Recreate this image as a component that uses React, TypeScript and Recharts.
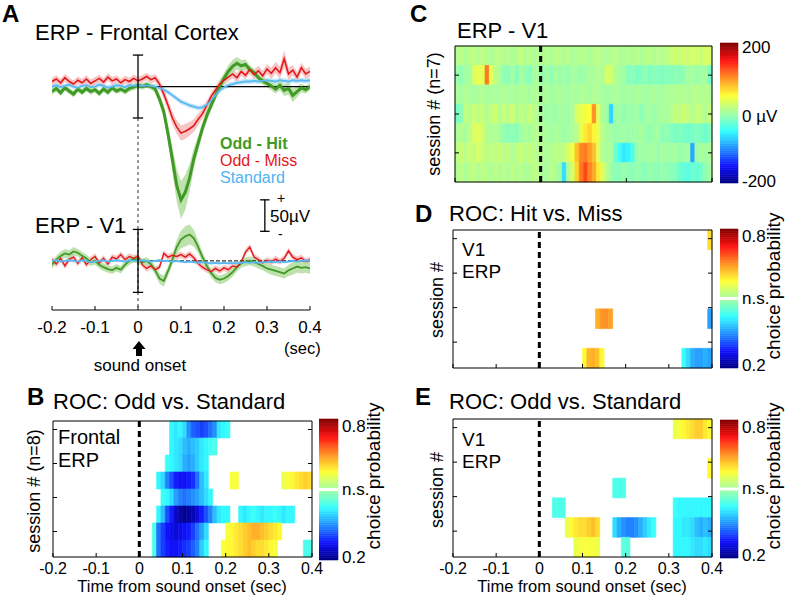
import React from 'react';
import { ComposedChart, Line, Area, XAxis, YAxis, ReferenceLine, ReferenceArea } from 'recharts';

const FONT = '"Liberation Sans", Arial, Helvetica, sans-serif';

// ---------- A: ERP traces, 10 ms steps from -0.2 s to 0.4 s, values in µV ----------
const T_START = -0.2;
const T_STEP = 0.01;
const X_TICKS = [-0.2, -0.1, 0, 0.1, 0.2, 0.3, 0.4];

const frontalHit = [
  -8, -3, -10, -2, -7, -12, -4, -9, -3, -8,
  -5, -11, -4, -9, -2, -7, -4, -8, -3, -1,
  2, 0, 3, 0, -4, -20, -40, -76, -116, -157,
  -180, -168, -145, -114, -90, -66, -46, -30, -14, 0,
  13, 24, 32, 37, 33, 35, 27, 22, 14, 9,
  5, 1, -4, 2, -6, -3, -14, -8, -2, -5,
  0,
];
const frontalHitErr = [
  5, 5, 5, 5, 5, 5, 5, 5, 5, 5,
  5, 5, 5, 5, 5, 5, 5, 5, 5, 5,
  5, 5, 5, 5, 6, 8, 10, 14, 20, 26,
  30, 28, 22, 16, 12, 10, 9, 8, 8, 8,
  9, 10, 10, 10, 9, 8, 7, 6, 6, 6,
  6, 7, 7, 8, 9, 10, 11, 9, 7, 6,
  6,
];
const frontalMiss = [
  8, 12, 6, 14, 8, 4, 10, 6, 12, 5,
  9, 13, 7, 15, 9, 12, 6, 11, 8, 13,
  9, 12, 16, 11, 14, 4, -12, -30, -50, -64,
  -74, -71, -67, -62, -52, -43, -30, -16, -6, 4,
  10, 15, 20, 14, 24, 18, 27, 19, 25, 17,
  28, 21, 30, 22, 44, 20, 26, 15, 30, 20,
  24,
];
const frontalMissErr = [
  6, 6, 6, 6, 6, 6, 6, 6, 6, 6,
  6, 6, 6, 6, 6, 6, 6, 6, 6, 6,
  6, 6, 6, 6, 6, 7, 8, 9, 10, 11,
  12, 12, 11, 10, 9, 8, 8, 7, 7, 7,
  7, 7, 7, 7, 7, 7, 7, 8, 8, 8,
  8, 9, 9, 10, 14, 10, 8, 8, 8, 8,
  8,
];
const frontalStd = [
  0, 2, -1, 1, 3, 0, -2, 1, 2, -1,
  0, 3, 1, -2, 0, 2, 1, -1, 2, 1,
  2, 1, 2, 1, 0, -2, -5, -9, -14, -19,
  -24, -27, -30, -32, -34, -33, -29, -22, -14, -6,
  -1, 2, 4, 6, 7, 8, 8, 9, 8, 9,
  10, 9, 8, 10, 9, 8, 10, 9, 10, 9,
  10,
];
const FRONTAL_STD_ERR = 4;

const v1Hit = [
  -6, 2, 8, 12, 10, 15, 13, 8, 4, -2,
  0, -6, -10, -13, -15, -11, -14, -6, 0, 3,
  2, -2, 0, -5, -15, -28, -32, -16, 2, 22,
  34, 39, 42, 36, 22, 6, -8, -19, -27, -30,
  -28, -24, -18, -10, -4, -1, 0, -2, -5, -8,
  -12, -14, -16, -18, -20, -15, -12, -9, -11, -10,
  -12,
];
const v1HitErr = [
  6, 6, 7, 7, 7, 7, 6, 6, 6, 6,
  6, 6, 6, 6, 6, 6, 6, 6, 6, 6,
  6, 6, 6, 6, 7, 8, 9, 8, 8, 11,
  14, 16, 16, 13, 10, 8, 7, 7, 7, 7,
  7, 7, 7, 7, 7, 7, 7, 7, 7, 7,
  7, 8, 8, 8, 8, 9, 10, 10, 9, 9,
  9,
];
const v1Miss = [
  2, -5, 4, -8, 3, 6, -4, 5, -6, 2,
  7, -3, 4, -5, 6, 3, 10, 2, 7, 4,
  8, -6, -12, -8, -14, -10, 12, 6, 9, 7,
  10, 6, 11, 5, -4, -10, -14, -17, -12, -16,
  -11, -14, -8, -10, -2, 14, 22, 6, 2, -3,
  1, -2, 3, -1, 4, 16, 6, 2, 5, -1,
  2,
];
const V1_MISS_ERR = 5;
const v1Std = [
  0, 1, -1, 0, 1, 0, -1, 1, 0, -2,
  -1, 0, 1, -1, 0, 1, 0, -1, 1, 0,
  0, 1, 0, -1, 0, 1, 0, 0, -1, 0,
  -1, -2, -1, -2, -3, -2, -3, -4, -3, -4,
  -3, -4, -3, -4, -3, -2, -3, -2, -3, -2,
  -2, -1, -2, -1, -2, -1, 0, -1, 0, 1,
  0,
];
const V1_STD_ERR = 2;

// V1 traces are drawn under the frontal ones on the same µV scale
const V1_SHIFT = -277;

const erpRows = frontalHit.map((_, i) => {
  const band = (v: number, e: number) => [v - e, v + e];
  return {
    t: Math.round((T_START + i * T_STEP) * 100) / 100,
    fHit: frontalHit[i],
    fMiss: frontalMiss[i],
    fStd: frontalStd[i],
    fHitBand: band(frontalHit[i], frontalHitErr[i]),
    fMissBand: band(frontalMiss[i], frontalMissErr[i]),
    fStdBand: band(frontalStd[i], FRONTAL_STD_ERR),
    vHit: v1Hit[i] + V1_SHIFT,
    vMiss: v1Miss[i] + V1_SHIFT,
    vStd: v1Std[i] + V1_SHIFT,
    vHitBand: band(v1Hit[i] + V1_SHIFT, v1HitErr[i]),
    vMissBand: band(v1Miss[i] + V1_SHIFT, V1_MISS_ERR),
    vStdBand: band(v1Std[i] + V1_SHIFT, V1_STD_ERR),
  };
});

// ---------- B, D, E: choice probability, 10 ms bins from 0 to 0.4 s (0 = n.s.), top row first ----------
const ROC_T0 = 0;
const ROC_BIN = 0.01;

const rocFrontal = [
  [0, 0, 0, 0, 0, 0, 0, .42, .41, .42, .40, .35, .32, .31, .30, .31, .33, .35, .41, .42, .43, 0, 0, 0, 0, 0, 0, 0, 0, 0, 0, 0, 0, 0, 0, 0, 0, 0, 0, 0],
  [0, 0, 0, 0, 0, 0, 0, .42, .41, .40, .38, .37, .38, .39, .41, .42, .43, .44, 0, 0, 0, 0, 0, 0, 0, 0, 0, 0, 0, 0, 0, 0, 0, 0, 0, 0, 0, 0, 0, 0],
  [0, 0, 0, 0, 0, 0, .43, .42, .41, .40, .37, .36, .37, .39, .41, .42, 0, 0, 0, 0, 0, 0, 0, 0, 0, 0, 0, 0, 0, 0, 0, 0, 0, 0, 0, 0, 0, 0, 0, 0],
  [0, 0, 0, 0, .42, .40, .34, .31, .28, .27, .27, .28, .29, .33, .38, .41, 0, 0, 0, 0, 0, .57, .57, 0, 0, 0, 0, 0, 0, 0, 0, 0, 0, .56, .57, .58, .59, .60, .61, .60],
  [0, 0, 0, 0, 0, .43, .42, .40, .36, .34, .33, .34, .35, .36, .38, .40, .42, 0, 0, 0, 0, 0, 0, 0, 0, 0, 0, 0, 0, 0, 0, 0, 0, 0, 0, 0, 0, 0, 0, 0],
  [0, 0, 0, 0, .42, .38, .31, .28, .24, .22, .21, .22, .23, .25, .28, .31, .34, .38, .41, .42, .42, 0, 0, .42, .41, .42, .43, .42, .41, .42, .42, .43, .42, .41, .42, .42, 0, 0, 0, 0],
  [0, 0, 0, .44, .33, .30, .27, .26, .25, .26, .27, .28, .30, .33, .36, .40, 0, 0, 0, 0, .57, .58, .59, .60, .61, .62, .63, .63, .62, .61, .60, .59, .58, 0, 0, 0, 0, 0, 0, 0],
  [0, 0, 0, .44, .33, .30, .28, .27, .27, .28, .29, .30, .32, .34, .39, .42, 0, 0, 0, .57, .58, .58, .59, .60, .61, .62, .61, .60, .60, .59, .58, .57, 0, 0, 0, 0, 0, 0, .44, .44],
];

const rocHitMiss = [
  [0, 0, 0, 0, 0, 0, 0, 0, 0, 0, 0, 0, 0, 0, 0, 0, 0, 0, 0, 0, 0, 0, 0, 0, 0, 0, 0, 0, 0, 0, 0, 0, 0, 0, 0, 0, 0, 0, 0, .60],
  [0, 0, 0, 0, 0, 0, 0, 0, 0, 0, 0, 0, 0, 0, 0, 0, 0, 0, 0, 0, 0, 0, 0, 0, 0, 0, 0, 0, 0, 0, 0, 0, 0, 0, 0, 0, 0, 0, 0, 0],
  [0, 0, 0, 0, 0, 0, 0, 0, 0, 0, 0, 0, 0, 0, 0, 0, 0, 0, 0, 0, 0, 0, 0, 0, 0, 0, 0, 0, 0, 0, 0, 0, 0, 0, 0, 0, 0, 0, 0, 0],
  [0, 0, 0, 0, 0, 0, 0, 0, 0, 0, 0, 0, 0, 0, 0, 0, 0, 0, 0, 0, 0, 0, 0, 0, 0, 0, 0, 0, 0, 0, 0, 0, 0, 0, 0, 0, 0, 0, 0, 0],
  [0, 0, 0, 0, 0, 0, 0, 0, 0, 0, 0, 0, 0, .63, .645, .65, .64, 0, 0, 0, 0, 0, 0, 0, 0, 0, 0, 0, 0, 0, 0, 0, 0, 0, 0, 0, 0, 0, 0, .36],
  [0, 0, 0, 0, 0, 0, 0, 0, 0, 0, 0, 0, 0, 0, 0, 0, 0, 0, 0, 0, 0, 0, 0, 0, 0, 0, 0, 0, 0, 0, 0, 0, 0, 0, 0, 0, 0, 0, 0, 0],
  [0, 0, 0, 0, 0, 0, 0, 0, 0, 0, .58, .625, .63, .62, .58, 0, 0, 0, 0, 0, 0, 0, 0, 0, 0, 0, 0, 0, 0, 0, 0, 0, 0, .43, .40, .37, .36, .36, .37, .36],
];

const rocV1 = [
  [0, 0, 0, 0, 0, 0, 0, 0, 0, 0, 0, 0, 0, 0, 0, 0, 0, 0, 0, 0, 0, 0, 0, 0, 0, 0, 0, 0, 0, 0, 0, .56, .57, .58, .59, .60, .61, .61, .59, .58],
  [0, 0, 0, 0, 0, 0, 0, 0, 0, 0, 0, 0, 0, 0, 0, 0, 0, 0, 0, 0, 0, 0, 0, 0, 0, 0, 0, 0, 0, 0, 0, 0, 0, 0, 0, 0, 0, 0, 0, 0],
  [0, 0, 0, 0, 0, 0, 0, 0, 0, 0, 0, 0, 0, 0, 0, 0, 0, 0, 0, 0, 0, 0, 0, 0, 0, 0, 0, 0, 0, 0, 0, 0, 0, 0, 0, 0, 0, 0, 0, .58],
  [0, 0, 0, 0, 0, 0, 0, 0, 0, 0, 0, 0, 0, 0, 0, 0, 0, .44, .44, .44, 0, 0, 0, 0, 0, 0, 0, 0, 0, 0, 0, 0, 0, 0, 0, 0, 0, 0, 0, 0],
  [0, 0, 0, .44, .44, .44, 0, 0, 0, 0, 0, 0, 0, 0, 0, 0, 0, 0, 0, 0, 0, 0, 0, 0, 0, 0, 0, 0, 0, 0, 0, .43, .42, .42, .42, .42, .42, .42, .42, .42],
  [0, 0, 0, 0, 0, 0, .56, .58, .59, .60, .60, .61, .62, .60, 0, 0, 0, .40, .37, .35, .34, .34, .35, .37, .39, .41, .43, 0, 0, 0, 0, .42, .42, .41, .41, .40, .38, .37, .38, .37],
  [0, 0, 0, 0, 0, 0, 0, 0, .56, .57, .57, .57, .57, .56, 0, 0, 0, 0, 0, .45, .45, 0, 0, 0, 0, 0, 0, 0, 0, 0, 0, .42, .42, .42, .42, .41, .40, .40, .41, .40],
];

// ---------- C: V1 ERP per session (µV), 10 ms bins from -0.2 to 0.4 s, top row = session 7 ----------
const ERP_T0 = -0.2;
const ERP_BIN = 0.01;
const erpSessions = [
  [10, 15, 5, 12, 18, 8, 15, 10, 5, 12, 15, 8, 12, 5, 10, 18, 8, 12, 5, 10, 8, 12, 5, 15, 10, 8, 12, 5, 10, 8, 12, 5, 10, 15, 8, 5, 10, 12, 8, 5, 10, 8, 12, 5, 10, 15, 8, 12, 10, 15, 20, 25, 18, 28, 22, 30, 25, 22, 30, 28],
  [-5, -8, 0, 3, 30, 40, 35, 110, 35, 15, 5, -10, -12, 0, -15, 3, -8, -12, 0, 5, -8, 0, -10, 3, -5, 0, -8, 3, 0, -5, 0, 5, 3, 10, 5, 30, 25, 8, 3, 0, -15, -12, -18, -15, -10, -18, -12, -15, -18, -12, -15, -10, -12, -8, 0, 3, -5, 0, 3, -20],
  [5, 2, 8, 5, 2, 5, 8, 2, 5, 2, 5, 8, 2, 5, 2, 8, 5, 2, 5, 8, 2, 5, 0, 2, 5, 2, 0, 5, 2, 8, 5, 2, 8, 5, 2, 0, 2, 5, 2, 0, 2, 0, 5, 2, 0, 2, 5, 0, 2, 5, 8, 5, 10, 8, 5, 10, 12, 8, 10, 8],
  [-20, -12, 18, 10, 25, 15, 20, 8, 18, 25, 10, 20, 15, 25, 8, 18, 10, 20, 15, 5, 3, -3, 0, -5, 3, 0, -3, 5, 30, 40, 45, 50, 100, 35, 5, 0, -70, -5, 0, -10, -3, -5, 0, -10, -3, 3, -5, 0, 5, 3, 10, 20, 15, 25, 18, 10, 20, 15, 8, 18],
  [5, 10, 3, 15, 30, 35, 28, 8, 5, 10, 3, -8, -12, -10, -12, 0, 5, 3, 8, 10, 5, 3, 0, 5, 3, -3, 0, 5, 12, 40, 60, 70, 55, 40, 12, 3, 0, -5, -3, 0, -5, -3, 0, 3, -5, -8, -3, 0, -12, -8, -15, -20, -15, -20, -25, -20, -15, -20, -25, -15],
  [15, 22, 12, 25, 18, 30, 22, 12, 18, 15, 22, 12, 18, 8, 15, 22, 12, 18, 15, 8, 12, 5, 8, 15, 12, 18, 30, 45, 80, 105, 110, 95, 80, 35, 8, 3, 5, -25, -45, -60, -55, -40, -5, 0, -3, 3, 0, -5, 3, -3, 0, 3, -5, -3, 0, -90, -5, 3, 0, 5],
  [8, 15, 5, 12, 18, 8, 15, 12, 5, 15, 8, 12, 5, 15, 8, 12, 5, 8, 15, 12, 5, 3, 12, 8, -3, -65, 5, 30, 70, 110, 130, 105, 90, 60, 35, 12, -5, -10, -12, -5, -10, -12, -5, -10, -12, -5, -10, -12, -5, -10, -12, -15, -25, -30, -35, -25, -30, -20, -10, 0],
];

// ---------- colour maps (jet, slightly softened towards the middle like the print) ----------
function jet(t: number) {
  const soft = 0.28 * (1 - Math.abs(2 * t - 1));
  const c = (x: number) => {
    const v = Math.max(0, Math.min(1, x));
    return Math.round(255 * (v + (1 - v) * soft));
  };
  return `rgb(${c(1.5 - Math.abs(4 * t - 3))},${c(1.5 - Math.abs(4 * t - 2))},${c(1.5 - Math.abs(4 * t - 1))})`;
}
const probColor = (v: number) => (v > 0 ? jet((v - 0.2) / 0.6) : null);
const uvColor = (v: number) => jet((v + 200) / 400);

const r3 = (v: number) => Math.round(v * 1000) / 1000;
const fmtT = (v: number) => {
  const r = Math.round(v * 10) / 10;
  return r === 0 ? '0' : String(r);
};

// inward (MATLAB style) ticks
const tickBottom = (labelDy: number | null, fs = 17) => (p: any) => (
  <g>
    <line x1={p.x} y1={p.y} x2={p.x} y2={p.y - 4} stroke="#000" />
    {labelDy !== null && (
      <text x={p.x} y={p.y + labelDy} textAnchor="middle" fontSize={fs} fontFamily={FONT} fill="#000">
        {fmtT(p.payload.value)}
      </text>
    )}
  </g>
);
const tickTop = (p: any) => <line x1={p.x} y1={p.y} x2={p.x} y2={p.y + 4} stroke="#000" />;
const tickLeft = (p: any) => <line x1={p.x} y1={p.y} x2={p.x + 4} y2={p.y} stroke="#000" />;
const tickRight = (p: any) => <line x1={p.x} y1={p.y} x2={p.x - 4} y2={p.y} stroke="#000" />;

function Heatmap(props: {
  x: number; y: number; w: number; h: number;
  rows: number[][]; t0: number; bin: number;
  color: (v: number) => string | null;
  xTicks: number[]; yTicks: number[]; labels: boolean;
}) {
  const { x, y, w, h, rows, t0, bin, color, xTicks, yTicks, labels } = props;
  const n = rows.length;
  // each axis takes 1px, so the plot starts 1px inside the margin
  const m = { top: 3, right: 15, bottom: labels ? 23 : 3, left: 19 };
  const cells: React.ReactElement[] = [];
  rows.forEach((row, r) => {
    row.forEach((v, i) => {
      const c = color(v);
      if (!c) return;
      cells.push(
        <ReferenceArea
          key={`${r}-${i}`}
          x1={r3(t0 + i * bin)}
          x2={r3(t0 + (i + 1) * bin)}
          y1={n - r - 0.5}
          y2={n - r + 0.5}
          fill={c}
          fillOpacity={1}
          stroke={c}
          strokeWidth={0.6}
          ifOverflow="visible"
        />
      );
    });
  });
  return (
    <div style={{ position: 'absolute', left: x - 20, top: y - 4 }}>
      <ComposedChart width={w + 36} height={h + 8 + (labels ? 20 : 0)} margin={m} data={[]}>
        <XAxis type="number" dataKey="t" domain={[-0.2, 0.4]} allowDataOverflow ticks={xTicks} interval={0}
          height={1} tickSize={0} tickMargin={0} tickLine={false} axisLine={{ stroke: '#000' }}
          tick={tickBottom(labels ? 16.5 : null, 16)} />
        <XAxis xAxisId="top" orientation="top" type="number" domain={[-0.2, 0.4]} allowDataOverflow ticks={xTicks}
          interval={0} height={1} tickSize={0} tickMargin={0} tickLine={false} axisLine={{ stroke: '#000' }} tick={tickTop} />
        <YAxis type="number" domain={[0.5, n + 0.5]} allowDataOverflow ticks={yTicks} interval={0} width={1}
          tickSize={0} tickMargin={0} tickLine={false} axisLine={{ stroke: '#000' }} tick={tickLeft} />
        <YAxis yAxisId="right" orientation="right" type="number" domain={[0.5, n + 0.5]} allowDataOverflow ticks={yTicks}
          interval={0} width={1} tickSize={0} tickMargin={0} tickLine={false} axisLine={{ stroke: '#000' }} tick={tickRight} />
        {cells}
        <ReferenceLine x={0} stroke="#000" strokeWidth={3} strokeDasharray="6 4" />
      </ComposedChart>
    </div>
  );
}

function ColorBar(props: {
  x: number; y: number; w: number; h: number; lo: number; hi: number;
  ticks: number[]; label: (v: number) => string; dy: (v: number) => number; ns?: number;
}) {
  const { x, y, w, h, lo, hi, ticks, label, dy, ns } = props;
  const m = { top: 8, right: 59, bottom: 12, left: 0 };
  const steps = 64;
  const stripes = Array.from({ length: steps }, (_, k) => (
    <ReferenceArea key={k} x1={0} x2={1} y1={lo + ((hi - lo) * k) / steps} y2={lo + ((hi - lo) * (k + 1)) / steps}
      fill={jet((k + 0.5) / steps)} fillOpacity={1} stroke={jet((k + 0.5) / steps)} strokeWidth={0.6} ifOverflow="visible" />
  ));
  const tick = (p: any) => (
    <text x={p.x + 4} y={p.y + dy(p.payload.value)} fontSize={17} fontFamily={FONT} fill="#000">
      {label(p.payload.value)}
    </text>
  );
  return (
    <div style={{ position: 'absolute', left: x, top: y - m.top }}>
      <ComposedChart width={w + 60} height={h + m.top + m.bottom} margin={m} data={[]}>
        <XAxis type="number" dataKey="x" domain={[0, 1]} hide height={0} allowDataOverflow />
        <YAxis type="number" orientation="right" domain={[lo, hi]} allowDataOverflow ticks={ticks} interval={0}
          width={1} tickSize={0} tickMargin={0} tickLine={false} axisLine={false} tick={tick} />
        {stripes}
        {ns !== undefined && <ReferenceLine y={ns} stroke="#fff" strokeWidth={3} ifOverflow="visible" />}
      </ComposedChart>
    </div>
  );
}

function ErpPanel() {
  const m = { top: 45, right: 20, bottom: 34, left: 52 };
  const seg = (x1: number, y1: number, x2: number, y2: number) => [{ x: x1, y: y1 }, { x: x2, y: y2 }];
  return (
    <div style={{ position: 'absolute', left: 0, top: 0 }}>
      <ComposedChart width={330} height={345} data={erpRows} margin={m}>
        <XAxis dataKey="t" type="number" domain={[-0.2, 0.4]} allowDataOverflow ticks={X_TICKS} interval={0}
          height={1} tickSize={0} tickMargin={0} tickLine={false} axisLine={{ stroke: '#000' }} tick={tickBottom(23)} />
        <YAxis type="number" domain={[-355, 66]} allowDataOverflow hide width={0} />
        <ReferenceLine segment={seg(0, -50, 0, -355)} stroke="#333" strokeWidth={1} strokeDasharray="3 3" ifOverflow="visible" />
        <ReferenceLine segment={seg(0, 0, 0.4, 0)} stroke="#000" strokeWidth={1.2} ifOverflow="visible" />
        <ReferenceLine segment={seg(0, V1_SHIFT, 0.4, V1_SHIFT)} stroke="#000" strokeWidth={1} strokeDasharray="4 2" ifOverflow="visible" />
        <Area dataKey="fStdBand" stroke="none" fill="#bfe3f8" fillOpacity={0.9} isAnimationActive={false} />
        <Area dataKey="fMissBand" stroke="none" fill="#f6b6b6" fillOpacity={0.8} isAnimationActive={false} />
        <Area dataKey="fHitBand" stroke="none" fill="#b3dca0" fillOpacity={0.85} isAnimationActive={false} />
        <Area dataKey="vStdBand" stroke="none" fill="#bfe3f8" fillOpacity={0.9} isAnimationActive={false} />
        <Area dataKey="vMissBand" stroke="none" fill="#f6b6b6" fillOpacity={0.8} isAnimationActive={false} />
        <Area dataKey="vHitBand" stroke="none" fill="#b3dca0" fillOpacity={0.85} isAnimationActive={false} />
        <Line dataKey="fHit" stroke="#3f9a26" strokeWidth={3} dot={false} isAnimationActive={false} />
        <Line dataKey="fMiss" stroke="#e3171b" strokeWidth={1.6} dot={false} isAnimationActive={false} />
        <Line dataKey="fStd" stroke="#5ab8f2" strokeWidth={1.8} dot={false} isAnimationActive={false} />
        <Line dataKey="vHit" stroke="#3f9a26" strokeWidth={1.8} dot={false} isAnimationActive={false} />
        <Line dataKey="vMiss" stroke="#e3171b" strokeWidth={1.4} dot={false} isAnimationActive={false} />
        <Line dataKey="vStd" stroke="#5ab8f2" strokeWidth={1.8} dot={false} isAnimationActive={false} />
        {/* ±50 µV bars at stimulus onset */}
        <ReferenceLine segment={seg(0, -50, 0, 50)} stroke="#000" strokeWidth={1.3} ifOverflow="visible" />
        <ReferenceLine segment={seg(-0.012, 50, 0.012, 50)} stroke="#000" strokeWidth={1.3} ifOverflow="visible" />
        <ReferenceLine segment={seg(-0.012, -50, 0.012, -50)} stroke="#000" strokeWidth={1.3} ifOverflow="visible" />
        <ReferenceLine segment={seg(0, V1_SHIFT - 50, 0, V1_SHIFT + 50)} stroke="#000" strokeWidth={1.3} ifOverflow="visible" />
        <ReferenceLine segment={seg(-0.012, V1_SHIFT + 50, 0.012, V1_SHIFT + 50)} stroke="#000" strokeWidth={1.3} ifOverflow="visible" />
        <ReferenceLine segment={seg(-0.012, V1_SHIFT - 50, 0.012, V1_SHIFT - 50)} stroke="#000" strokeWidth={1.3} ifOverflow="visible" />
        {/* 50 µV scale bar */}
        <ReferenceLine segment={seg(0.295, -180, 0.295, -230)} stroke="#000" strokeWidth={1.3} ifOverflow="visible" />
        <ReferenceLine segment={seg(0.284, -180, 0.306, -180)} stroke="#000" strokeWidth={1.3} ifOverflow="visible" />
        <ReferenceLine segment={seg(0.284, -230, 0.306, -230)} stroke="#000" strokeWidth={1.3} ifOverflow="visible" />
      </ComposedChart>
    </div>
  );
}

const Txt = (p: { x: number; y: number; s: string; fs?: number; bold?: boolean; fill?: string; anchor?: 'start' | 'middle' | 'end'; rot?: boolean }) => (
  <text x={p.x} y={p.y} fontSize={p.fs ?? 17} fontWeight={p.bold ? 700 : 400} fill={p.fill ?? '#000'}
    textAnchor={p.anchor ?? 'start'} fontFamily={FONT} transform={p.rot ? `rotate(-90 ${p.x} ${p.y})` : undefined}>
    {p.s}
  </text>
);

const ROC_Y_TICKS = [2, 4, 6, 8];
const ROC7_Y_TICKS = [7.0625, 5.3125, 3.5625, 1.8125];
const probLabel = (v: number) => (v > 0.75 ? '0.8' : v < 0.25 ? '0.2' : 'n.s.');
const probDy = (v: number) => (v > 0.75 ? 13 : v < 0.25 ? 3 : 5);

export default function App() {
  return (
    <div style={{ position: 'absolute', left: 0, top: 0, width: 785, height: 599, background: '#fff', overflow: 'hidden', fontFamily: FONT }}>
      <ErpPanel />

      <Heatmap x={53} y={421} w={259} h={136} rows={rocFrontal} t0={ROC_T0} bin={ROC_BIN} color={probColor}
        xTicks={X_TICKS} yTicks={ROC_Y_TICKS} labels />
      <ColorBar x={319} y={419} w={19} h={141} lo={0.2} hi={0.8} ticks={[0.2, 0.5, 0.8]} label={probLabel} dy={probDy} ns={0.5} />

      <Heatmap x={455} y={46} w={257} h={136} rows={erpSessions} t0={ERP_T0} bin={ERP_BIN} color={uvColor}
        xTicks={[-0.2, 0, 0.2, 0.4]} yTicks={[2, 4, 6]} labels={false} />
      <ColorBar x={720} y={43} w={18} h={140} lo={-200} hi={200} ticks={[-200, 0, 200]}
        label={(v) => (v > 0 ? '200' : v < 0 ? '-200' : '0 µV')} dy={(v) => (v > 0 ? 10 : v < 0 ? 4 : 9)} />

      <Heatmap x={453} y={230} w={259} h={138} rows={rocHitMiss} t0={ROC_T0} bin={ROC_BIN} color={probColor}
        xTicks={X_TICKS} yTicks={ROC7_Y_TICKS} labels={false} />
      <ColorBar x={720} y={229} w={18} h={139} lo={0.2} hi={0.8} ticks={[0.2, 0.5, 0.8]} label={probLabel} dy={probDy} ns={0.5} />

      <Heatmap x={453} y={419} w={259} h={138} rows={rocV1} t0={ROC_T0} bin={ROC_BIN} color={probColor}
        xTicks={X_TICKS} yTicks={ROC7_Y_TICKS} labels />
      <ColorBar x={720} y={420} w={18} h={138} lo={0.2} hi={0.8} ticks={[0.2, 0.5, 0.8]} label={probLabel} dy={probDy} ns={0.5} />

      <svg width={785} height={599} style={{ position: 'absolute', left: 0, top: 0, pointerEvents: 'none' }}>
        {/* A */}
        <Txt x={2} y={22} s="A" fs={24} bold />
        <Txt x={35} y={40} s="ERP - Frontal Cortex" fs={22} />
        <Txt x={35} y={233} s="ERP - V1" fs={22} />
        <Txt x={220} y={149} s="Odd - Hit" fs={16} bold fill="#3f9a26" />
        <Txt x={220} y={166} s="Odd - Miss" fs={16} fill="#e3171b" />
        <Txt x={220} y={183} s="Standard" fs={16} fill="#4fb3f0" />
        <Txt x={277} y={203} s="+" fs={14} />
        <Txt x={270} y={222} s="50µV" />
        <Txt x={278} y={239} s="-" fs={14} />
        <Txt x={284} y={354} s="(sec)" fs={16.5} />
        <path d="M139,341 L145.5,349 L142,349 L142,356 L136,356 L136,349 L132.5,349 Z" fill="#000" />
        <Txt x={140} y={371} s="sound onset" anchor="middle" />

        {/* B */}
        <Txt x={27} y={405} s="B" fs={24} bold />
        <Txt x={53} y={409} s="ROC: Odd vs. Standard" fs={22} />
        <Txt x={58} y={444} s="Frontal" fs={20} />
        <Txt x={58} y={467} s="ERP" fs={20} />
        <Txt x={40} y={491} s="session # (n=8)" fs={18} anchor="middle" rot />
        <Txt x={380} y={476} s="choice probability" fs={19} anchor="middle" rot />
        <Txt x={182} y={592} s="Time from sound onset (sec)" fs={16.5} anchor="middle" />

        {/* C */}
        <Txt x={410} y={22} s="C" fs={24} bold />
        <Txt x={457} y={38} s="ERP - V1" fs={22} />
        <Txt x={440} y={114} s="session # (n=7)" fs={18} anchor="middle" rot />

        {/* D */}
        <Txt x={415} y={222} s="D" fs={24} bold />
        <Txt x={449} y={221} s="ROC: Hit vs. Miss" fs={22} />
        <Txt x={462} y={256} s="V1" fs={19} />
        <Txt x={462} y={278} s="ERP" fs={19} />
        <Txt x={443} y={300} s="session #" fs={18} anchor="middle" rot />
        <Txt x={780} y={286} s="choice probability" fs={19} anchor="middle" rot />

        {/* E */}
        <Txt x={415} y={405} s="E" fs={24} bold />
        <Txt x={449} y={409} s="ROC: Odd vs. Standard" fs={22} />
        <Txt x={462} y={446} s="V1" fs={19} />
        <Txt x={462} y={468} s="ERP" fs={19} />
        <Txt x={443} y={490} s="session #" fs={18} anchor="middle" rot />
        <Txt x={780} y={476} s="choice probability" fs={19} anchor="middle" rot />
        <Txt x={582} y={592} s="Time from sound onset (sec)" fs={16.5} anchor="middle" />
      </svg>
    </div>
  );
}
